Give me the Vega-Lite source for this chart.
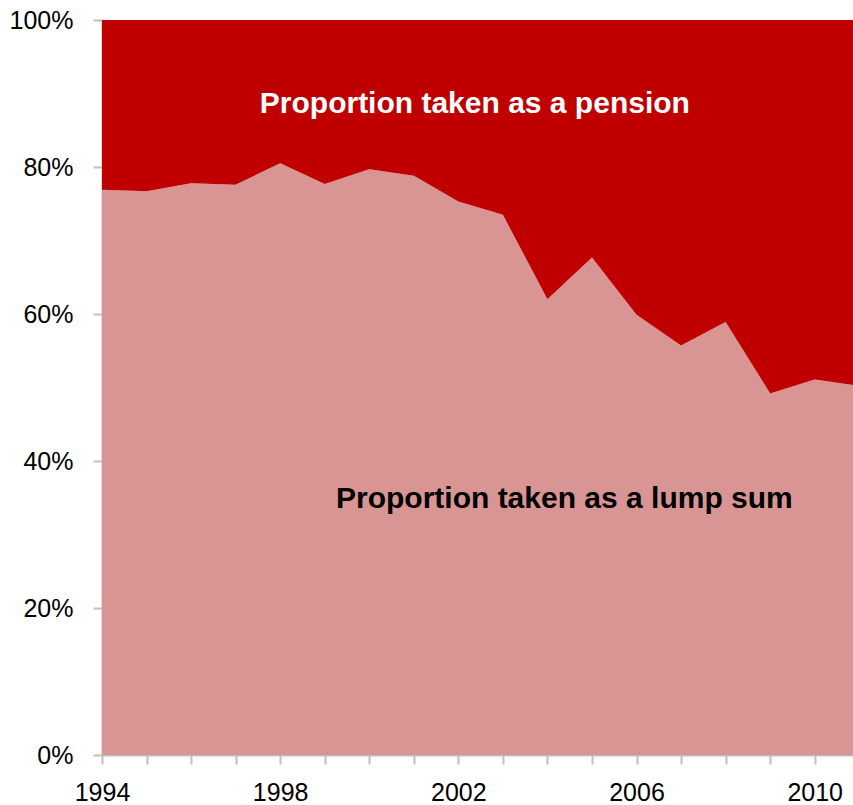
{
  "$schema": "https://vega.github.io/schema/vega-lite/v6.json",
  "autosize": "none",
  "width": 751,
  "height": 735,
  "padding": {"left": 102, "top": 20, "right": 0, "bottom": 50},
  "background": "white",
  "config": {
    "view": {"stroke": null},
    "font": "Liberation Sans",
    "axis": {
      "grid": false,
      "domainColor": "#bfbfbf",
      "domainWidth": 2,
      "tickColor": "#bfbfbf",
      "tickWidth": 2,
      "tickSize": 9,
      "labelFont": "Liberation Sans",
      "labelFontSize": 25,
      "labelColor": "#000000",
      "title": null
    }
  },
  "datasets": {
    "shares": [
      {"year": 1994, "type": "Lump sum", "share": 0.769},
      {"year": 1995, "type": "Lump sum", "share": 0.767},
      {"year": 1996, "type": "Lump sum", "share": 0.778},
      {"year": 1997, "type": "Lump sum", "share": 0.776},
      {"year": 1998, "type": "Lump sum", "share": 0.805},
      {"year": 1999, "type": "Lump sum", "share": 0.777},
      {"year": 2000, "type": "Lump sum", "share": 0.797},
      {"year": 2001, "type": "Lump sum", "share": 0.788},
      {"year": 2002, "type": "Lump sum", "share": 0.753},
      {"year": 2003, "type": "Lump sum", "share": 0.735},
      {"year": 2004, "type": "Lump sum", "share": 0.620},
      {"year": 2005, "type": "Lump sum", "share": 0.677},
      {"year": 2006, "type": "Lump sum", "share": 0.599},
      {"year": 2007, "type": "Lump sum", "share": 0.557},
      {"year": 2008, "type": "Lump sum", "share": 0.589},
      {"year": 2009, "type": "Lump sum", "share": 0.492},
      {"year": 2010, "type": "Lump sum", "share": 0.511},
      {"year": 2011, "type": "Lump sum", "share": 0.502},
      {"year": 1994, "type": "Pension", "share": 0.231},
      {"year": 1995, "type": "Pension", "share": 0.233},
      {"year": 1996, "type": "Pension", "share": 0.222},
      {"year": 1997, "type": "Pension", "share": 0.224},
      {"year": 1998, "type": "Pension", "share": 0.195},
      {"year": 1999, "type": "Pension", "share": 0.223},
      {"year": 2000, "type": "Pension", "share": 0.203},
      {"year": 2001, "type": "Pension", "share": 0.212},
      {"year": 2002, "type": "Pension", "share": 0.247},
      {"year": 2003, "type": "Pension", "share": 0.265},
      {"year": 2004, "type": "Pension", "share": 0.380},
      {"year": 2005, "type": "Pension", "share": 0.323},
      {"year": 2006, "type": "Pension", "share": 0.401},
      {"year": 2007, "type": "Pension", "share": 0.443},
      {"year": 2008, "type": "Pension", "share": 0.411},
      {"year": 2009, "type": "Pension", "share": 0.508},
      {"year": 2010, "type": "Pension", "share": 0.489},
      {"year": 2011, "type": "Pension", "share": 0.498}
    ]
  },
  "layer": [
    {
      "data": {"name": "shares"},
      "mark": {"type": "area", "interpolate": "linear", "clip": true},
      "encoding": {
        "x": {
          "field": "year",
          "type": "quantitative",
          "scale": {"domain": [1994, 2010.86], "nice": false, "zero": false},
          "axis": {
            "values": [1994, 1995, 1996, 1997, 1998, 1999, 2000, 2001, 2002, 2003, 2004, 2005, 2006, 2007, 2008, 2009, 2010],
            "format": "d",
            "labelExpr": "(datum.value - 1994) % 4 == 0 ? datum.label : ''",
            "labelOverlap": false,
            "labelFlush": false,
            "labelPadding": 16
          }
        },
        "y": {
          "field": "share",
          "type": "quantitative",
          "stack": "zero",
          "scale": {"domain": [0, 1], "nice": false},
          "axis": {
            "values": [0, 0.2, 0.4, 0.6, 0.8, 1],
            "format": ".0%",
            "labelPadding": 20
          }
        },
        "color": {
          "field": "type",
          "type": "nominal",
          "scale": {"domain": ["Lump sum", "Pension"], "range": ["#d99594", "#c00000"]},
          "legend": null
        },
        "order": {"field": "type", "sort": "ascending"}
      }
    },
    {
      "data": {"values": [{"label": "Proportion taken as a pension"}]},
      "mark": {"type": "text", "font": "Liberation Sans", "fontWeight": "bold", "fontSize": 30, "align": "center", "baseline": "alphabetic", "fill": "#ffffff"},
      "encoding": {
        "x": {"datum": 2002.37, "type": "quantitative"},
        "y": {"datum": 0.8735, "type": "quantitative"},
        "text": {"field": "label", "type": "nominal"}
      }
    },
    {
      "data": {"values": [{"label": "Proportion taken as a lump sum"}]},
      "mark": {"type": "text", "font": "Liberation Sans", "fontWeight": "bold", "fontSize": 30, "align": "center", "baseline": "alphabetic", "fill": "#000000"},
      "encoding": {
        "x": {"datum": 2004.38, "type": "quantitative"},
        "y": {"datum": 0.336, "type": "quantitative"},
        "text": {"field": "label", "type": "nominal"}
      }
    }
  ]
}
